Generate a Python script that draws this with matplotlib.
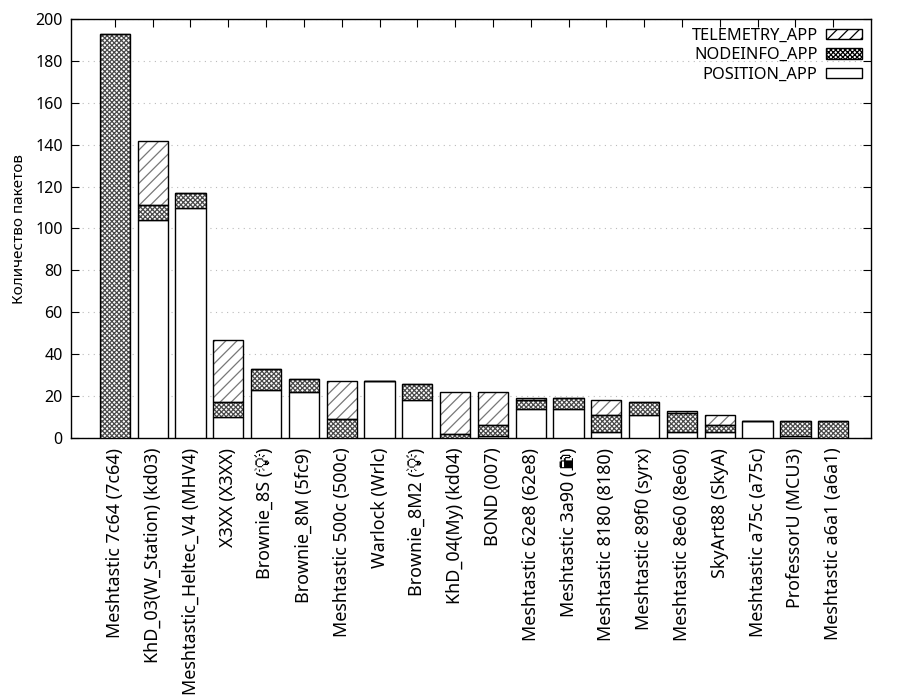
import matplotlib
matplotlib.use("Agg")
import matplotlib.pyplot as plt
import numpy as np
from matplotlib import font_manager as fm
from matplotlib.ft2font import FT2Font
from matplotlib.patches import Patch, Circle
from matplotlib.lines import Line2D
from matplotlib.transforms import IdentityTransform

BULB = "\U0001F4A1"
PUMP = "\u26FD"

nodes = ["Meshtastic 7c64 (7c64)", "KhD_03(W_Station) (kd03)", "Meshtastic_Heltec_V4 (MHV4)",
         "X3XX (X3XX)", "Brownie_8S (" + BULB + ")", "Brownie_8M (5fc9)", "Meshtastic 500c (500c)",
         "Warlock (Wrlc)", "Brownie_8M2 (" + BULB + ")", "KhD_04(My) (kd04)", "BOND (007)",
         "Meshtastic 62e8 (62e8)", "Meshtastic 3a90 (" + PUMP + ")", "Meshtastic 8180 (8180)",
         "Meshtastic 89f0 (syrx)", "Meshtastic 8e60 (8e60)", "SkyArt88 (SkyA)",
         "Meshtastic a75c (a75c)", "ProfessorU (MCU3)", "Meshtastic a6a1 (a6a1)"]
position_app  = [0, 104, 110, 10, 23, 22, 0, 27, 18, 0, 1, 14, 14, 3, 11, 3, 3, 8, 1, 0]
nodeinfo_app  = [193, 7, 7, 7, 10, 6, 9, 0, 8, 2, 5, 4, 5, 8, 6, 9, 3, 0, 7, 8]
telemetry_app = [0, 31, 0, 30, 0, 0, 18, 0, 0, 20, 16, 1, 0, 7, 0, 1, 5, 0, 0, 0]
legend_labels = ['TELEMETRY_APP', 'NODEINFO_APP', 'POSITION_APP']
y_label = 'Количество пакетов'

base_families = ['Noto Sans', 'DejaVu Sans', 'Noto Sans CJK SC']


def find_family(ch):
    for fe in fm.fontManager.ttflist:
        if 'color' in fe.name.lower() or 'color' in fe.fname.lower():
            continue
        try:
            ft = FT2Font(fe.fname)
            if ord(ch) in ft.get_charmap():
                return fe.name
        except Exception:
            pass
    return None


extra = []
missing = []
for ch in (BULB, PUMP):
    fam = find_family(ch)
    if fam:
        if fam not in extra and fam not in base_families:
            extra.append(fam)
    else:
        missing.append(ch)

plt.rcParams['font.family'] = base_families + extra
plt.rcParams['hatch.linewidth'] = 0.9

PLACE = "\u2002\u2002"
shown = []
for n in nodes:
    for ch in missing:
        n = n.replace(ch, PLACE)
    shown.append(n)

fig = plt.figure(figsize=(9, 7), dpi=100)
ax = fig.add_axes([71/900, 1-438/700, 800/900, 419/700])

x = np.arange(len(nodes))
pos = np.array(position_app)
nod = np.array(nodeinfo_app)
tel = np.array(telemetry_app)
w = 0.8
NODE_HATCH = 'xxxxxxx'
NODE_COL = '#4a4a4a'
TEL_HATCH = '///'
TEL_COL = '#777777'
ax.bar(x, pos, w, color='white', edgecolor='black', linewidth=1.0, zorder=3)
ax.bar(x, nod, w, bottom=pos, color='white', edgecolor=NODE_COL, hatch=NODE_HATCH,
       linewidth=0, zorder=3)
ax.bar(x, tel, w, bottom=pos + nod, color='white', edgecolor=TEL_COL, hatch=TEL_HATCH,
       linewidth=0, zorder=3)
ax.bar(x, nod, w, bottom=pos, fill=False, edgecolor='black', linewidth=1.0, zorder=4)
ax.bar(x, tel, w, bottom=pos + nod, fill=False, edgecolor='black', linewidth=1.0, zorder=4)

ax.set_xlim(-1.16, 20.0)
ax.set_ylim(0, 200)
ax.set_yticks(np.arange(0, 201, 20))
ax.set_xticks(x)
ax.set_xticklabels(shown, rotation=90, fontsize=12.9)
ax.tick_params(axis='x', bottom=False, top=True, direction='in', length=6, pad=7)
ax.tick_params(axis='y', left=True, right=True, direction='in', length=6, labelsize=11.5, pad=6)
ax.yaxis.grid(True, linestyle=(0, (1, 4)), color='#bbbbbb', linewidth=0.8, zorder=0)
ax.set_axisbelow(True)
ax.set_ylabel(y_label, fontsize=11, labelpad=6)
for s in ax.spines.values():
    s.set_linewidth(1.0)

handles = [Patch(facecolor='white', edgecolor=TEL_COL, hatch=TEL_HATCH),
           Patch(facecolor='white', edgecolor=NODE_COL, hatch=NODE_HATCH),
           Patch(facecolor='white', edgecolor='black')]
leg = ax.legend(handles, legend_labels, loc='upper right',
                frameon=False, markerfirst=False, fontsize=11.8, handlelength=2.2,
                handleheight=0.6, labelspacing=0.2, borderaxespad=0.25, handletextpad=0.5,
                borderpad=0.3)
for h in leg.legend_handles:
    h.set_edgecolor('black')

# Draw symbols that no installed font provides as small outline shapes
if missing:
    fig.canvas.draw()
    renderer = fig.canvas.get_renderer()
    tr = IdentityTransform()
    col = '#666666'
    for lbl, name in zip(ax.get_xticklabels(), nodes):
        sym = None
        for ch in missing:
            if ch in name:
                sym = ch
        if sym is None:
            continue
        fp = lbl.get_fontproperties()
        wpar, _, _ = renderer.get_text_width_height_descent(")", fp, ismath=False)
        wpl, _, _ = renderer.get_text_width_height_descent(PLACE, fp, ismath=False)
        ext = lbl.get_window_extent(renderer)
        cy = ext.y1 - wpar - wpl / 2
        cx = (ext.x0 + ext.x1) / 2 - 1

        def M(gx, gy):
            return (cx - gy, cy + gx)

        def line(pts, lw=0.9):
            xs = [M(a, b)[0] for a, b in pts]
            ys = [M(a, b)[1] for a, b in pts]
            fig.add_artist(Line2D(xs, ys, transform=tr, color=col, lw=lw))

        if sym == BULB:
            cxy = M(0, 1.0)
            fig.add_artist(Circle(cxy, 3.2, transform=tr, fill=False, ec=col, lw=0.9))
            line([(-1.6, -2.0), (-1.4, -4.5), (1.4, -4.5), (1.6, -2.0)])
            line([(-1.2, -5.6), (1.2, -5.6)])
            for a, b, c, d in [(-5.5, 1, -4.3, 1), (4.3, 1, 5.5, 1), (0, 5.0, 0, 6.2),
                               (-4.2, 4.2, -3.3, 3.3), (3.3, 3.3, 4.2, 4.2)]:
                line([(a, b), (c, d)], lw=0.7)
        else:
            line([(-3.5, -5.5), (-3.5, 5.0), (2.0, 5.0), (2.0, -5.5), (-3.5, -5.5)])
            line([(-2.5, 1.0), (-2.5, 4.0), (1.0, 4.0), (1.0, 1.0), (-2.5, 1.0)], lw=0.7)
            line([(2.0, 3.0), (4.0, 2.0), (4.0, -3.5), (3.0, -4.0)], lw=0.8)
            line([(-4.5, -5.5), (3.0, -5.5)])

fig.savefig('out.png', dpi=100)
